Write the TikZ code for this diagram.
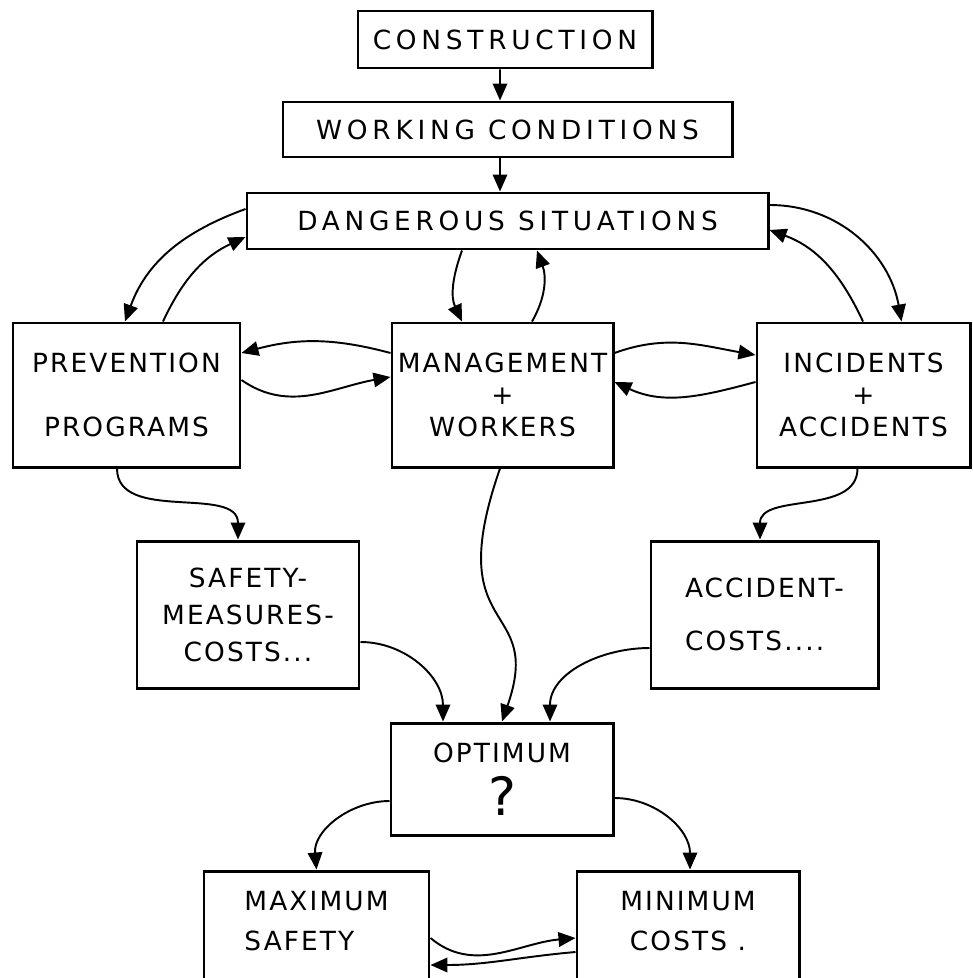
\documentclass[tikz,border=0pt]{standalone}
\usepackage{fontspec}
\setmainfont{DejaVu Sans}[LetterSpace=8]
\newfontfamily\widefont{DejaVu Sans}[LetterSpace=18]
\usetikzlibrary{arrows.meta}

\begin{document}
\begin{tikzpicture}[x=0.2mm,y=-0.2mm,
        >={Triangle[length=3.4mm,width=2.9mm]},
        box/.style={draw,line width=1.7pt,inner sep=1pt,align=center,
                font=\fontsize{15}{18}\selectfont},
        widebox/.style={box,font=\widefont\fontsize{15}{18}\selectfont},
        flow/.style={->,line width=1.1pt}]
        \clip (0,0) rectangle (973,978);
        \node[widebox,minimum width=58.8mm,minimum height=11.4mm] (cons) at (505,39.5) {CONSTRUCTION};
        \node[widebox,minimum width=89.8mm,minimum height=11mm] (work) at (507.5,129.5) {WORKING CONDITIONS};
        \node[widebox,minimum width=104.2mm,minimum height=11.2mm] (danger) at (507.5,221) {DANGEROUS SITUATIONS};
        \node[box,minimum width=45.4mm,minimum height=28.8mm] (prev) at (126.5,395) {PREVENTION\\[18pt]PROGRAMS};
        \node[box,minimum width=44.2mm,minimum height=28.8mm] (mgmt) at (502.5,395) {MANAGEMENT\\+\\WORKERS};
        \node[box,minimum width=42.6mm,minimum height=28.8mm] (inc) at (863.5,395) {INCIDENTS\\+\\ACCIDENTS};
        \node[box,minimum width=44.4mm,minimum height=29.4mm] (safety) at (248,614.5) {SAFETY-\\[3pt]MEASURES-\\[3pt]COSTS...};
        \node[box,align=left,minimum width=45.4mm,minimum height=29.4mm] (acc) at (764.5,614.5) {ACCIDENT-\\[12pt]COSTS....};
        \node[box,minimum width=44.4mm,minimum height=22.4mm] (opt) at (502,779) {OPTIMUM\\[7pt]{\fontsize{30}{32}\selectfont ?}};
        \node[box,align=left,minimum width=45mm,minimum height=28mm] (maxs) at (316.5,941) {MAXIMUM\\[5pt]SAFETY\\[5pt]~};
        \node[box,minimum width=44.4mm,minimum height=28mm] (mins) at (688,941) {MINIMUM\\[5pt]COSTS .\\[5pt]~};

        \draw[flow] ([xshift=-1mm]cons.south) -- ([xshift=-1.5mm]work.north);
        \draw[flow] ([xshift=-1.5mm]work.south) -- ([xshift=-1.5mm]danger.north);

        \draw[flow] ([yshift=2.4mm]danger.west) to[out=200,in=70] ([xshift=-0.3mm]prev.north);
        \draw[flow] ([xshift=7.3mm]prev.north) to[out=65,in=205] ([yshift=-3.2mm]danger.west);
        \draw[flow] ([xshift=-9.1mm]danger.south) to[out=250,in=115] ([xshift=-8.1mm]mgmt.north);
        \draw[flow] ([xshift=5.9mm]mgmt.north) to[out=60,in=-70] ([xshift=5.9mm]danger.south);
        \draw[flow] ([yshift=3.2mm]danger.east) to[out=0,in=100] ([xshift=7.6mm]inc.north);
        \draw[flow] ([xshift=-0.1mm]inc.north) to[out=115,in=-20] ([yshift=-1.8mm]danger.east);

        \draw[flow] ([yshift=8.4mm]mgmt.west) to[out=165,in=15] ([yshift=8.4mm]prev.east);
        \draw[flow] ([yshift=3mm]prev.east) to[out=-35,in=190] ([yshift=3.6mm]mgmt.west);
        \draw[flow] ([yshift=8.4mm]mgmt.east) to[out=20,in=170] ([yshift=8mm]inc.west);
        \draw[flow] ([yshift=2.6mm]inc.west) to[out=195,in=-25] ([yshift=2.6mm]mgmt.east);

        \draw[flow] ([xshift=-1.9mm]prev.south) to[out=-90,in=90] ([xshift=-2mm]safety.north);
        \draw[flow] ([xshift=-1.2mm]inc.south) to[out=-90,in=90] ([xshift=-0.9mm]acc.north);
        \draw[flow] ([yshift=-5.5mm]safety.east) to[out=0,in=90] ([xshift=-11.8mm]opt.north);
        \draw[flow] ([yshift=-6.7mm]acc.west) to[out=180,in=90] ([xshift=9.6mm]opt.north);
        \draw[flow] ([xshift=-0.5mm]mgmt.south) .. controls +(-60,172) and +(43,-123) .. (opt.north);

        \draw[flow] ([yshift=-4.4mm]opt.west) to[out=180,in=95] (maxs.north);
        \draw[flow] ([yshift=-3.8mm]opt.east) to[out=0,in=90] ([xshift=0.4mm]mins.north);
        \draw[flow] ([yshift=0.6mm]maxs.east) to[out=-40,in=185] ([yshift=0.6mm]mins.west);
        \draw[flow] ([yshift=-2.2mm]mins.west) to[out=185,in=0] ([yshift=-4.8mm]maxs.east);
\end{tikzpicture}
\end{document}
